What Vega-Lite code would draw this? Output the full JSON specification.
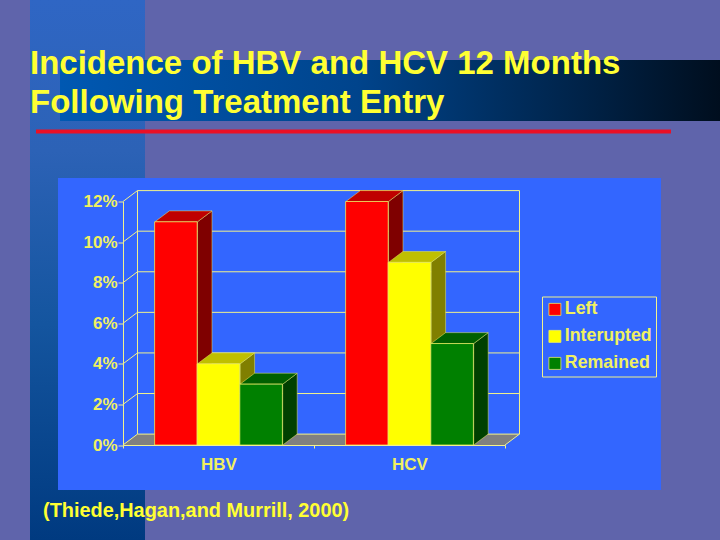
{
"$schema":"https://vega.github.io/schema/vega-lite/v6.json",
"width":382,"height":243.5,
"autosize":"none",
"padding":{"left":123,"top":201.5,"right":215,"bottom":95},
"background":"#5F64AB",
"view":{"stroke":null},
"title":{"text":["Incidence of HBV and HCV 12 Months","Following Treatment Entry"],"anchor":"start","frame":"group","dx":-93,"offset":-119.5,"font":"Liberation Sans","fontSize":33,"fontWeight":"bold","lineHeight":39,"color":"#FFFF33"},
"datasets":{
"bars":[
{"group":"HBV","series":"Left","value":11},
{"group":"HBV","series":"Interupted","value":4},
{"group":"HBV","series":"Remained","value":3},
{"group":"HCV","series":"Left","value":12},
{"group":"HCV","series":"Interupted","value":9},
{"group":"HCV","series":"Remained","value":5}
],
"ticks":[{"tick":0},{"tick":2},{"tick":4},{"tick":6},{"tick":8},{"tick":10},{"tick":12}]
},
"resolve":{"scale":{"x":"independent","color":"independent"},"axis":{"x":"independent","y":"independent"}},
"layer":[
{"resolve":{"scale":{"color":"independent"}},
"layer":[
{"data":{"values":[{"part":"band"}]},
"mark":{"type":"rect","fill":{"gradient":"linear","x1":0,"y1":0,"x2":0,"y2":1,"stops":[{"offset":0,"color":"#2F66C4"},{"offset":0.28,"color":"#2C62B6"},{"offset":0.6,"color":"#14559F"},{"offset":1,"color":"#003A80"}]}},
"encoding":{"x":{"datum":-0.4869,"type":"quantitative","scale":{"domain":[0,2]},"axis":null},"x2":{"datum":0.1152},"y":{"datum":21.93,"type":"quantitative","scale":{"domain":[0,12]},"axis":null},"y2":{"datum":-4.682}}},
{"data":{"values":[{"part":"band"}]},
"mark":{"type":"rect","fill":{"gradient":"linear","x1":0,"y1":0,"x2":1,"y2":0,"stops":[{"offset":0,"color":"#0058B2"},{"offset":0.45,"color":"#00448C"},{"offset":1,"color":"#000E1E"}]}},
"encoding":{"x":{"datum":-0.3298,"type":"quantitative","scale":{"domain":[0,2]},"axis":null},"x2":{"datum":3.1257},"y":{"datum":18.97,"type":"quantitative","scale":{"domain":[0,12]},"axis":null},"y2":{"datum":15.97}}},
{"data":{"values":[{"part":"line"}]},
"mark":{"type":"rule","color":"#EA1026","strokeWidth":4},
"encoding":{"x":{"datum":-0.4555,"type":"quantitative","scale":{"domain":[0,2]},"axis":null},"x2":{"datum":2.869},"y":{"datum":15.45,"type":"quantitative","scale":{"domain":[0,12]},"axis":null}}},
{"data":{"values":[{"part":"panel"}]},
"mark":{"type":"rect","fill":"#3366FF"},
"encoding":{"x":{"datum":-0.3403,"type":"quantitative","scale":{"domain":[0,2]},"axis":null},"x2":{"datum":2.8168},"y":{"datum":13.158,"type":"quantitative","scale":{"domain":[0,12]},"axis":null},"y2":{"datum":-2.218}}},
{"data":{"values":[{"edge":0},{"edge":1}]},
"transform":[{"calculate":"0.537*datum.edge","as":"fy"},{"calculate":"0.0759*datum.edge","as":"fx"},{"calculate":"2+0.0759*datum.edge","as":"fx2"}],
"mark":{"type":"area","orient":"horizontal","fill":"#808080"},
"encoding":{"y":{"field":"fy","type":"quantitative","scale":{"domain":[0,12]},"axis":null},"x":{"field":"fx","type":"quantitative","scale":{"domain":[0,2]},"axis":null},"x2":{"field":"fx2"}}},
{"data":{"name":"ticks"},
"transform":[{"calculate":"datum.tick+0.537","as":"back"}],
"mark":{"type":"rule","color":"#F2F28C","strokeWidth":1},
"encoding":{"x":{"datum":0.0759,"type":"quantitative","scale":{"domain":[0,2]},"axis":null},"x2":{"datum":2.0759},"y":{"field":"back","type":"quantitative","scale":{"domain":[0,12]},"axis":null}}},
{"data":{"name":"ticks"},
"transform":[{"calculate":"datum.tick+0.537","as":"back"}],
"mark":{"type":"rule","color":"#F2F28C","strokeWidth":1},
"encoding":{"x":{"datum":0,"type":"quantitative","scale":{"domain":[0,2]},"axis":null},"x2":{"datum":0.0759},"y":{"field":"tick","type":"quantitative","scale":{"domain":[0,12]},"axis":null},"y2":{"field":"back"}}},
{"data":{"values":[{"wall":0.0759},{"wall":2.0759}]},
"mark":{"type":"rule","color":"#F2F28C","strokeWidth":1},
"encoding":{"x":{"field":"wall","type":"quantitative","scale":{"domain":[0,2]},"axis":null},"y":{"datum":0.537,"type":"quantitative","scale":{"domain":[0,12]},"axis":null},"y2":{"datum":12.537}}},
{"data":{"values":[{"wall":"right"}]},
"mark":{"type":"rule","color":"#F2F28C","strokeWidth":1},
"encoding":{"x":{"datum":2,"type":"quantitative","scale":{"domain":[0,2]},"axis":null},"x2":{"datum":2.0759},"y":{"datum":0,"type":"quantitative","scale":{"domain":[0,12]},"axis":null},"y2":{"datum":0.537}}},
{"data":{"name":"bars"},
"transform":[
{"calculate":"indexof(['HBV','HCV'],datum.group)+0.167+0.223*indexof(['Left','Interupted','Remained'],datum.series)","as":"left"},
{"calculate":"[0,1]","as":"t"},{"flatten":["t"]},
{"calculate":"datum.left+0.223+0.0759*datum.t","as":"sx"},
{"calculate":"datum.value+0.537*datum.t","as":"st"},
{"calculate":"0.537*datum.t","as":"sb"}],
"mark":{"type":"area","orient":"vertical","stroke":"#E8E860","strokeWidth":0.5},
"encoding":{"x":{"field":"sx","type":"quantitative","scale":{"domain":[0,2]},"axis":null},"y":{"field":"st","type":"quantitative","scale":{"domain":[0,12]},"axis":null},"y2":{"field":"sb"},
"detail":{"field":"group"},
"color":{"field":"series","type":"nominal","legend":null,"scale":{"domain":["Left","Interupted","Remained"],"range":["#7F0000","#807F00","#004000"]}}}},
{"data":{"name":"bars"},
"transform":[
{"calculate":"indexof(['HBV','HCV'],datum.group)+0.167+0.223*indexof(['Left','Interupted','Remained'],datum.series)","as":"left"},
{"calculate":"[0,1]","as":"t"},{"flatten":["t"]},
{"calculate":"datum.left+0.0759*datum.t","as":"tx"},
{"calculate":"datum.left+0.223+0.0759*datum.t","as":"tx2"},
{"calculate":"datum.value+0.537*datum.t","as":"ty"}],
"mark":{"type":"area","orient":"horizontal","stroke":"#E8E860","strokeWidth":0.5},
"encoding":{"y":{"field":"ty","type":"quantitative","scale":{"domain":[0,12]},"axis":null},"x":{"field":"tx","type":"quantitative","scale":{"domain":[0,2]},"axis":null},"x2":{"field":"tx2"},
"detail":{"field":"group"},
"color":{"field":"series","type":"nominal","legend":null,"scale":{"domain":["Left","Interupted","Remained"],"range":["#BF0000","#BFBF00","#006000"]}}}},
{"data":{"values":[{"note":"(Thiede,Hagan,and Murrill, 2000)"}]},
"mark":{"type":"text","align":"left","baseline":"alphabetic","font":"Liberation Sans","fontSize":19.9,"fontWeight":"bold","color":"#FFFF33"},
"encoding":{"text":{"field":"note"},"x":{"datum":-0.4188,"type":"quantitative","scale":{"domain":[0,2]},"axis":null},"y":{"datum":-3.55,"type":"quantitative","scale":{"domain":[0,12]},"axis":null}}}
]},
{"data":{"name":"bars"},
"mark":{"type":"bar","stroke":"#F2F060","strokeWidth":0.75},
"encoding":{
"x":{"field":"group","type":"nominal","title":null,"scale":{"domain":["HBV","HCV"],"padding":0},
"axis":{"zindex":1,"labelAngle":0,"tickBand":"extent","domainColor":"#F2F28C","tickColor":"#F2F28C","tickSize":3,"labelColor":"#F0F060","labelFont":"Liberation Sans","labelFontWeight":"bold","labelFontSize":17,"labelPadding":8}},
"xOffset":{"field":"series","type":"nominal","sort":["Left","Interupted","Remained"],"scale":{"domain":["Left","Interupted","Remained"],"paddingInner":0,"paddingOuter":0.742}},
"y":{"field":"value","type":"quantitative","title":null,"scale":{"domain":[0,12]},
"axis":{"orient":"left","zindex":1,"values":[0,2,4,6,8,10,12],"format":".0f","labelExpr":"datum.label + '%'","grid":false,"domainColor":"#F2F28C","tickColor":"#F2F28C","tickSize":5,"labelColor":"#F0F060","labelFont":"Liberation Sans","labelFontWeight":"bold","labelFontSize":17,"labelPadding":1}},
"color":{"field":"series","type":"nominal","title":null,"scale":{"domain":["Left","Interupted","Remained"],"range":["#FF0000","#FFFF00","#008000"]},
"legend":{"orient":"none","legendX":419,"legendY":95,"padding":4,"strokeColor":"#F2F28C","symbolType":"square","symbolSize":144,"symbolStrokeColor":"#F2F060","symbolStrokeWidth":0.75,"symbolOpacity":1,"labelColor":"#F0F060","labelFont":"Liberation Sans","labelFontWeight":"bold","labelFontSize":17.8,"labelOffset":1,"rowPadding":8}}}}
]
}
